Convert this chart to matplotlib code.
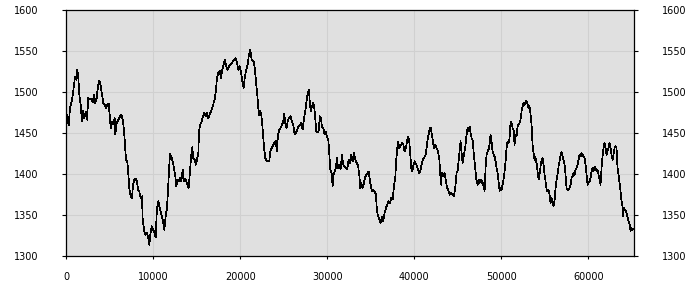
import matplotlib
matplotlib.use("Agg")
import matplotlib.pyplot as plt

x_vals = [
    81, 272, 425, 579, 732, 885, 1000, 1115, 1268, 1383, 1498, 1651, 1805, 1920, 2073, 2226, 2379,
    2533, 2724, 2877, 3030, 3184, 3337, 3490, 3643, 3797, 3950, 4103, 4257, 4410, 4563, 4716, 4870,
    4985, 5099, 5252, 5406, 5559, 5636, 5789, 5981, 6172, 6325, 6479, 6632, 6747, 6862, 7015, 7130,
    7245, 7398, 7551, 7666, 7819, 7973, 8126, 8241, 8394, 8547, 8701, 8777, 8930, 9083, 9237, 9390,
    9543, 9658, 9811, 9965, 10118, 10271, 10424, 10578,
    10732, 10923, 11115, 11268, 11421, 11574, 11689, 11804, 11919, 12072, 12226, 12379, 12532, 12647,
    12762, 12915, 13068, 13222, 13375, 13490, 13643, 13796, 13950, 14064, 14218, 14371, 14486, 14601,
    14754, 14907, 15060, 15175, 15252, 15405, 15559, 15712, 15865, 16018, 16172, 16325, 16478, 16632,
    16785, 16938, 17091, 17206, 17321, 17474, 17627, 17781, 17934, 18087, 18240, 18394, 18547, 18700,
    18854, 19007, 19160, 19313, 19467, 19620, 19773, 19926, 20080, 20233, 20386, 20539, 20693, 20846,
    20999, 21152, 21306, 21459,
    21536, 21689, 21842, 21957, 22072, 22187, 22302, 22417, 22532, 22647, 22761, 22876, 23030, 23183,
    23336, 23451, 23604, 23758, 23911, 24064, 24217, 24332, 24485, 24639, 24792, 24945, 25060, 25175,
    25328, 25481, 25635, 25788, 25941, 26094, 26248, 26401, 26554, 26707, 26861, 27014, 27167, 27282,
    27397, 27550, 27665, 27780, 27895, 28010, 28125, 28240, 28393, 28508, 28623, 28738, 28853, 29006,
    29159, 29274, 29389, 29543, 29696, 29849, 29964, 30117, 30232, 30347, 30500, 30615, 30730, 30845,
    30998, 31113, 31228, 31381, 31534, 31688, 31841, 31994, 32147, 32301,
    32455, 32609, 32762, 32915, 33068, 33222, 33375, 33528, 33681, 33796, 33911, 34065, 34218, 34333,
    34486, 34639, 34754, 34869, 34984, 35137, 35291, 35444, 35597, 35712, 35865, 36018, 36133, 36287,
    36440, 36593, 36746, 36900, 37053, 37206, 37359, 37512, 37666, 37819, 37934, 38049, 38164, 38279,
    38393, 38508, 38623, 38738, 38891, 39045, 39198, 39313, 39428, 39543, 39658, 39773, 39926, 40079,
    40232, 40386, 40539, 40692, 40845, 40999, 41152, 41305, 41420, 41535, 41650, 41765, 41880, 41995,
    42110, 42263, 42416, 42570, 42723, 42876,
    43068, 43183, 43336, 43490, 43643, 43796, 43949, 44102, 44256, 44409, 44562, 44715, 44868, 44983,
    45098, 45213, 45328, 45443, 45558, 45673, 45788, 45903, 46018, 46133, 46248, 46363, 46478, 46593,
    46707, 46822, 46937, 47052, 47167, 47282, 47397, 47512, 47627, 47742, 47857, 47972, 48086, 48201,
    48316, 48431, 48546, 48661, 48776, 48891, 49006, 49121, 49236, 49351, 49466, 49581, 49696, 49811,
    49926, 50041, 50156, 50271, 50385, 50500, 50615, 50730, 50845, 50960, 51075, 51190, 51305, 51420,
    51535, 51650, 51765, 51880, 51995, 52110, 52225, 52339, 52454, 52569, 52684, 52799, 52914, 53029,
    53144, 53259, 53374, 53489, 53604, 53719, 53834,
    53910, 54063, 54178, 54293, 54408, 54523, 54638, 54753, 54868, 54983, 55098, 55213, 55328, 55443,
    55558, 55672, 55787, 55902, 56017, 56132, 56247, 56362, 56477, 56592, 56707, 56822, 56937, 57052,
    57167, 57282, 57396, 57511, 57626, 57741, 57856, 57971, 58086, 58201, 58316, 58431, 58546, 58661,
    58776, 58891, 59006, 59121, 59235, 59350, 59465, 59580, 59695, 59810, 59925, 60040, 60155, 60270,
    60385, 60500, 60615, 60730, 60845, 60960, 61074, 61189, 61304, 61419, 61534, 61649, 61764, 61879,
    61994, 62109, 62224, 62339, 62454, 62569, 62684, 62799, 62914, 63029, 63144, 63259, 63374, 63489,
    63604, 63719, 63834, 63949, 64026, 64102, 64217, 64332, 64447, 64562, 64677, 64792, 64868, 64983,
    65098, 65251,
]

y_vals = [
    1471.6, 1459.4, 1480.6, 1486.7, 1496.0, 1509.1, 1518.4, 1515.2, 1527.4, 1517.2, 1496.9, 1484.6,
    1464.2, 1477.3, 1468.3, 1475.7, 1466.3, 1492.8, 1490.7, 1492.0, 1487.9, 1496.9, 1486.7, 1492.8,
    1507.0, 1514.0, 1508.3, 1496.9, 1486.7, 1484.6, 1480.6, 1484.6, 1485.8, 1472.4, 1456.1, 1464.2,
    1461.0, 1468.3, 1448.0, 1462.2, 1466.3, 1470.4, 1472.4, 1466.3, 1454.1, 1435.7, 1417.4, 1414.5,
    1400.3, 1382.7, 1372.6, 1370.5, 1386.8, 1393.0, 1394.2, 1390.9, 1380.7, 1378.7, 1370.5, 1372.6,
    1346.1, 1331.8, 1325.7, 1327.7, 1323.7, 1313.5, 1325.7, 1335.9, 1331.8, 1329.0, 1322.4, 1358.3,
    1366.5,
    1358.3, 1350.1, 1342.0, 1331.8, 1348.1, 1358.3, 1378.7, 1403.1, 1424.3, 1421.4, 1415.4, 1407.2,
    1397.0, 1384.8, 1393.0, 1390.9, 1395.0, 1390.9, 1405.2, 1390.9, 1394.2, 1390.9, 1386.8, 1382.7,
    1403.1, 1423.5, 1432.5, 1419.4, 1417.4, 1411.3, 1419.4, 1423.5, 1452.0, 1460.2, 1464.2, 1470.4,
    1474.4, 1470.4, 1474.4, 1468.3, 1472.4, 1476.5, 1480.6, 1486.7, 1492.8, 1503.0, 1517.2, 1523.3,
    1526.2, 1517.2, 1527.4, 1533.5, 1539.6, 1531.5, 1527.4, 1531.5, 1533.5, 1535.6, 1537.6, 1539.6,
    1541.7, 1535.6, 1527.4, 1531.5, 1525.4, 1513.2, 1505.0, 1519.3, 1527.4, 1533.5, 1545.7, 1551.9,
    1539.6, 1537.6,
    1537.6, 1527.4, 1509.1, 1496.9, 1480.6, 1471.6, 1476.5, 1472.4, 1460.2, 1443.9, 1429.6, 1419.4,
    1415.4, 1415.4, 1415.4, 1427.6, 1431.6, 1434.5, 1437.8, 1440.6, 1427.6, 1448.0, 1454.1, 1456.1,
    1460.2, 1464.2, 1473.2, 1462.2, 1456.1, 1466.3, 1468.3, 1470.4, 1464.2, 1460.2, 1448.0, 1450.0,
    1454.1, 1458.1, 1459.4, 1462.2, 1454.1, 1464.2, 1472.4, 1482.6, 1492.8, 1498.9, 1503.0, 1484.6,
    1476.5, 1482.6, 1486.7, 1480.6, 1468.3, 1452.0, 1451.2, 1452.0, 1470.4, 1468.3, 1458.1, 1456.1,
    1448.0, 1451.2, 1445.9, 1441.8, 1425.5, 1405.2, 1401.1, 1384.8, 1399.1, 1403.1, 1407.2, 1419.4,
    1407.2, 1411.3, 1405.2, 1423.5, 1411.3, 1409.2, 1407.2, 1405.2,
    1417.4, 1413.3, 1423.5, 1415.4, 1425.5, 1417.4, 1413.3, 1411.3, 1399.0, 1382.7, 1388.9, 1382.7,
    1388.9, 1395.0, 1399.0, 1401.1, 1403.1, 1395.0, 1386.8, 1378.7, 1380.7, 1378.7, 1374.6, 1354.2,
    1348.1, 1344.0, 1340.0, 1348.1, 1342.0, 1352.2, 1358.3, 1362.4, 1366.5, 1364.4, 1370.5, 1368.5,
    1384.8, 1395.0, 1417.4, 1431.7, 1439.0, 1431.7, 1433.7, 1435.7, 1437.8, 1436.5, 1427.6, 1431.7,
    1441.8, 1445.9, 1439.8, 1423.5, 1407.2, 1403.1, 1411.3, 1415.4, 1411.3, 1407.2, 1401.1, 1403.1,
    1411.3, 1417.4, 1420.2, 1423.5, 1431.7, 1441.8, 1448.0, 1454.1, 1456.9, 1450.0, 1441.8, 1431.7,
    1435.7, 1431.7, 1427.6, 1419.4,
    1386.8, 1401.1, 1397.0, 1401.1, 1390.9, 1382.7, 1378.7, 1374.6, 1376.6, 1374.6, 1372.6, 1382.7,
    1401.1, 1403.1, 1415.4, 1427.6, 1439.8, 1425.5, 1413.3, 1421.4, 1427.6, 1435.7, 1448.0, 1456.1,
    1452.0, 1458.1, 1450.0, 1443.9, 1441.8, 1427.6, 1415.4, 1403.1, 1390.9, 1386.8, 1393.0, 1388.9,
    1390.9, 1393.0, 1386.8, 1388.9, 1378.7, 1407.2, 1423.5, 1427.6, 1429.6, 1435.7, 1448.0, 1439.8,
    1427.6, 1423.5, 1421.4, 1415.4, 1407.2, 1401.1, 1390.9, 1379.5, 1382.7, 1380.7, 1386.8, 1393.0,
    1403.1, 1415.4, 1431.7, 1439.8, 1437.8, 1443.9, 1464.2, 1462.2, 1456.1, 1454.1, 1435.7, 1448.0,
    1445.9, 1458.1, 1460.2, 1462.2, 1466.3, 1476.5, 1482.6, 1486.7, 1484.6, 1488.7, 1489.5, 1484.6,
    1480.6, 1482.6, 1472.4, 1460.2, 1435.7, 1425.5, 1417.4,
    1421.4, 1413.3, 1403.1, 1393.0, 1399.0, 1409.2, 1417.4, 1419.4, 1411.3, 1399.0, 1390.9, 1380.7,
    1378.7, 1380.7, 1374.6, 1364.4, 1370.5, 1366.5, 1360.3, 1366.5, 1382.7, 1393.0, 1399.0, 1409.2,
    1415.4, 1423.5, 1426.8, 1421.4, 1417.4, 1411.3, 1399.0, 1382.7, 1380.7, 1380.7, 1382.7, 1386.8,
    1395.0, 1397.0, 1401.1, 1399.0, 1405.2, 1407.2, 1411.3, 1417.4, 1423.5, 1421.4, 1425.5, 1423.5,
    1421.4, 1419.4, 1411.3, 1399.0, 1386.8, 1388.9, 1390.9, 1395.0, 1403.1, 1407.2, 1403.1, 1409.2,
    1407.2, 1403.1, 1405.2, 1399.0, 1393.0, 1386.8, 1407.2, 1421.4, 1431.7, 1437.8, 1431.7, 1423.5,
    1427.6, 1431.7, 1437.8, 1431.7, 1423.5, 1417.4, 1423.5, 1431.7, 1433.7, 1431.7, 1407.2, 1399.0,
    1388.9, 1378.7, 1366.5, 1360.3, 1348.1, 1358.3, 1356.3, 1354.2, 1350.1, 1346.1, 1340.0, 1337.9,
    1329.8, 1333.9, 1331.8, 1333.0,
]

x_ticks = [0, 10000, 20000, 30000, 40000, 50000, 60000]
y_ticks = [1300, 1350, 1400, 1450, 1500, 1550, 1600]
x_max = 65300

fig = plt.figure(figsize=(7, 3), dpi=100)
ax = fig.add_axes([66.3 / 700, 44.3 / 300, (634.3 - 66.3) / 700, (255.7 - 10.3) / 300])
ax.set_facecolor("#e0e0e0")
ax.plot(x_vals, y_vals, color="black", linewidth=0.5, antialiased=False)
ax.set_xlim(0, x_max)
ax.set_ylim(1300, 1600)
ax.set_xticks(x_ticks)
ax.set_xticklabels([str(t) for t in x_ticks])
ax.set_yticks(y_ticks)
ax.set_yticklabels([str(t) for t in y_ticks])
ax.grid(True, color="#d0d0d0", linewidth=0.75)
ax.set_axisbelow(True)
for s in ax.spines.values():
    s.set_color("black")
    s.set_linewidth(0.9)
ax.tick_params(axis="y", which="both", left=True, right=True, labelleft=True, labelright=True,
               length=3, width=0.8, pad=17, labelsize=7, colors="black")
ax.tick_params(axis="x", length=2, width=0.8, pad=10, labelsize=7, colors="black")
fig.savefig("out.png", dpi=100, facecolor="white")
